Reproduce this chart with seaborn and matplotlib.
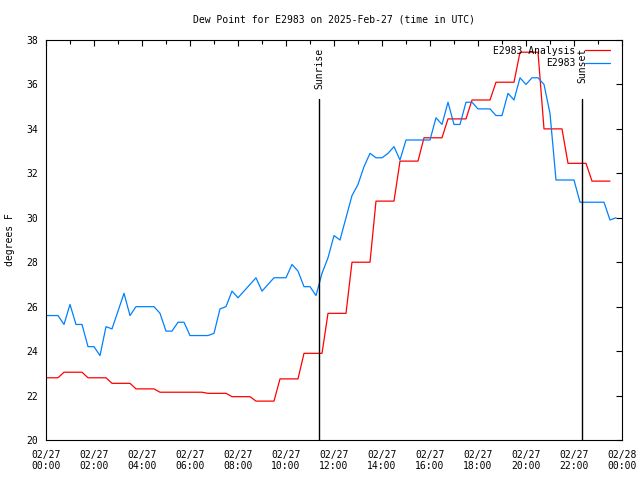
import numpy as np
import pandas as pd
import matplotlib
matplotlib.use("Agg")
import matplotlib.pyplot as plt
import seaborn as sns

# ---------------- data ----------------
title = "Dew Point for E2983 on 2025-Feb-27 (time in UTC)"
series_names = ["E2983 Analysis", "E2983"]
series_colors = ["#ff0000", "#0080ff"]

# 15-minute observations (hours after 00:00 UTC), starting at 00:00
obs_dewpoint = [
    25.6, 25.6, 25.6, 25.2, 26.1, 25.2, 25.2, 24.2,   # 00:00-01:45
    24.2, 23.8, 25.1, 25.0, 25.8, 26.6, 25.6, 26.0,   # 02:00-03:45
    26.0, 26.0, 26.0, 25.7, 24.9, 24.9, 25.3, 25.3,   # 04:00-05:45
    24.7, 24.7, 24.7, 24.7, 24.8, 25.9, 26.0, 26.7,   # 06:00-07:45
    26.4, 26.7, 27.0, 27.3, 26.7, 27.0, 27.3, 27.3,   # 08:00-09:45
    27.3, 27.9, 27.6, 26.9, 26.9, 26.5, 27.5, 28.2,   # 10:00-11:45
    29.2, 29.0, 30.0, 31.0, 31.5, 32.3, 32.9, 32.7,   # 12:00-13:45
    32.7, 32.9, 33.2, 32.6, 33.5, 33.5, 33.5, 33.5,   # 14:00-15:45
    33.5, 34.5, 34.2, 35.2, 34.2, 34.2, 35.2, 35.2,   # 16:00-17:45
    34.9, 34.9, 34.9, 34.6, 34.6, 35.6, 35.3, 36.3,   # 18:00-19:45
    36.0, 36.3, 36.3, 36.0, 34.7, 31.7, 31.7, 31.7,   # 20:00-21:45
    31.7, 30.7, 30.7, 30.7, 30.7, 30.7, 29.9, 30.0,   # 22:00-23:45
]

# 15-minute analysis values, starting at 00:00
ana_dewpoint = [
    22.8, 22.8, 22.8, 23.05, 23.05, 23.05, 23.05, 22.8,
    22.8, 22.8, 22.8, 22.55, 22.55, 22.55, 22.55, 22.3,
    22.3, 22.3, 22.3, 22.15, 22.15, 22.15, 22.15, 22.15,
    22.15, 22.15, 22.15, 22.1, 22.1, 22.1, 22.1, 21.95,
    21.95, 21.95, 21.95, 21.75, 21.75, 21.75, 21.75, 22.75,
    22.75, 22.75, 22.75, 23.9, 23.9, 23.9, 23.9, 25.7,
    25.7, 25.7, 25.7, 28.0, 28.0, 28.0, 28.0, 30.75,
    30.75, 30.75, 30.75, 32.55, 32.55, 32.55, 32.55, 33.6,
    33.6, 33.6, 33.6, 34.45, 34.45, 34.45, 34.45, 35.3,
    35.3, 35.3, 35.3, 36.1, 36.1, 36.1, 36.1, 37.45,
    37.45, 37.45, 37.45, 34.0, 34.0, 34.0, 34.0, 32.45,
    32.45, 32.45, 32.45, 31.65, 31.65, 31.65, 31.65,
]

sunrise_hour = 11.38
sunset_hour = 22.35

x_tick_hours = [0, 2, 4, 6, 8, 10, 12, 14, 16, 18, 20, 22, 24]
x_tick_labels = ["02/27\n00:00", "02/27\n02:00", "02/27\n04:00", "02/27\n06:00",
                 "02/27\n08:00", "02/27\n10:00", "02/27\n12:00", "02/27\n14:00",
                 "02/27\n16:00", "02/27\n18:00", "02/27\n20:00", "02/27\n22:00",
                 "02/28\n00:00"]
y_ticks = [20, 22, 24, 26, 28, 30, 32, 34, 36, 38]

# ---------------- build table ----------------
step = 0.25
df = pd.concat([
    pd.DataFrame({"hour": np.arange(len(ana_dewpoint)) * step,
                  "dewpoint": ana_dewpoint, "series": series_names[0]}),
    pd.DataFrame({"hour": np.arange(len(obs_dewpoint)) * step,
                  "dewpoint": obs_dewpoint, "series": series_names[1]}),
], ignore_index=True)

# ---------------- style ----------------
sns.set_theme(style="white")
plt.rcParams["font.family"] = ["DejaVu Sans Mono"]
fs = 7

fig = plt.figure(figsize=(6.4, 4.8), dpi=100)
ax = fig.add_axes([46 / 640, 40 / 480, 576 / 640, 400 / 480])

sns.lineplot(data=df, x="hour", y="dewpoint", hue="series",
             hue_order=series_names, palette=series_colors,
             estimator=None, sort=False, linewidth=0.9, ax=ax)

ax.set_xlim(0, 24)
ax.set_ylim(20, 38)
ax.set_xticks(x_tick_hours)
ax.set_xticklabels(x_tick_labels, fontsize=fs, linespacing=1.15)
ax.set_xticks(np.arange(0, 25, 1), minor=True)
ax.set_yticks(y_ticks)
ax.set_yticklabels([str(v) for v in y_ticks], fontsize=fs)
ax.tick_params(axis="both", which="both", direction="in", top=True, right=True,
               color="black", width=0.8, labelcolor="black")
ax.tick_params(axis="both", which="major", length=4.5)
ax.tick_params(axis="both", which="minor", length=3)
ax.tick_params(axis="x", which="major", pad=7)
ax.tick_params(axis="y", which="major", pad=6)

for sp in ax.spines.values():
    sp.set_color("black")
    sp.set_linewidth(0.8)

ax.set_xlabel("")
ax.set_ylabel("degrees F", fontsize=fs, color="black")
ax.yaxis.set_label_coords(-31 / 576, 0.5)

fig.text(334 / 640, 1 - 19 / 480, title, ha="center", va="center",
         fontsize=fs, color="black")

# sunrise / sunset markers
line_top = (440 - 99) / 400
for hr, lab in [(sunrise_hour, "Sunrise"), (sunset_hour, "Sunset")]:
    ax.axvline(hr, ymin=0, ymax=line_top, color="black", linewidth=1.0)
    ax.text(hr, 37.65, lab, rotation=90, ha="center", va="top",
            fontsize=fs, color="black")

leg = ax.legend(loc="upper right", bbox_to_anchor=(0.98, 0.986),
                frameon=False, markerfirst=False, fontsize=fs,
                handlelength=2.6, handletextpad=1.0, labelspacing=0.25,
                borderaxespad=0, borderpad=0)
for t in leg.get_texts():
    t.set_color("black")

fig.savefig("out.png", dpi=100)
